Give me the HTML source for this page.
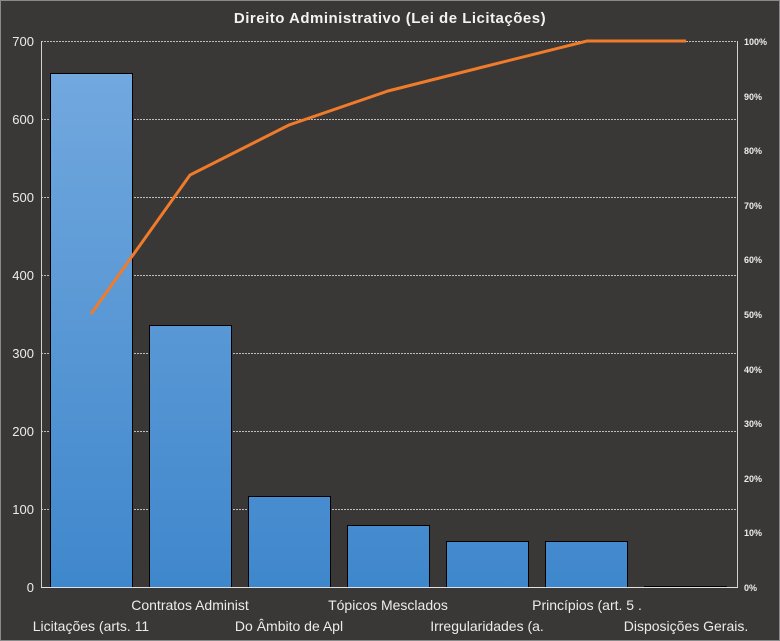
<!DOCTYPE html>
<html><head><style>html,body{margin:0;padding:0;overflow:hidden;background:#3a3836}svg{display:block}</style></head><body>
<svg width="780" height="641" xmlns="http://www.w3.org/2000/svg" font-family="Liberation Sans, sans-serif">
<defs><linearGradient id="g" gradientUnits="userSpaceOnUse" x1="0" y1="73" x2="0" y2="587"><stop offset="0" stop-color="#72a8de"/><stop offset="1" stop-color="#3f87cc"/></linearGradient></defs>
<rect x="0.5" y="0.5" width="779" height="640" fill="#3a3836" stroke="#8a8a8a"/>
<text x="390" y="23" fill="#f2f2f2" font-size="15" font-weight="bold" text-anchor="middle" letter-spacing="0.5">Direito  Administrativo  (Lei de Licitações)</text>
<g stroke="#bdbdbd" stroke-dasharray="2,1" stroke-width="1">
<line x1="41" x2="737" y1="41.5" y2="41.5"/><line x1="41" x2="737" y1="119.5" y2="119.5"/><line x1="41" x2="737" y1="197.5" y2="197.5"/><line x1="41" x2="737" y1="275.5" y2="275.5"/><line x1="41" x2="737" y1="353.5" y2="353.5"/><line x1="41" x2="737" y1="431.5" y2="431.5"/><line x1="41" x2="737" y1="509.5" y2="509.5"/>
</g>
<g fill="url(#g)" stroke="#000" stroke-width="1">
<rect x="50.5" y="73.5" width="82" height="514"/>
<rect x="149.5" y="325.5" width="82" height="262"/>
<rect x="248.5" y="496.5" width="82" height="91"/>
<rect x="347.5" y="525.5" width="82" height="62"/>
<rect x="446.5" y="541.5" width="82" height="46"/>
<rect x="545.5" y="541.5" width="82" height="46"/>
<rect x="644.5" y="586.5" width="82" height="1"/>
</g>
<line x1="41.5" y1="41" x2="41.5" y2="588" stroke="#d0d0d0"/>
<line x1="737.5" y1="41" x2="737.5" y2="588" stroke="#d0d0d0"/>
<line x1="41" y1="587.5" x2="738" y2="587.5" stroke="#e0e0e0"/>
<polyline points="91,314 190,175 289,125 388,91 487,66 587,41 686,41" fill="none" stroke="#f07b2a" stroke-width="3"/>
<g fill="#ececec" font-size="13" text-anchor="end">
<text x="34" y="46">700</text><text x="34" y="124">600</text><text x="34" y="202">500</text><text x="34" y="280">400</text><text x="34" y="358">300</text><text x="34" y="436">200</text><text x="34" y="514">100</text><text x="34" y="592">0</text>
</g>
<g fill="#ececec" font-size="9" font-weight="bold">
<text x="744" y="45">100%</text><text x="744" y="100">90%</text><text x="744" y="154">80%</text><text x="744" y="209">70%</text><text x="744" y="263">60%</text><text x="744" y="318">50%</text><text x="744" y="373">40%</text><text x="744" y="427">30%</text><text x="744" y="482">20%</text><text x="744" y="536">10%</text><text x="744" y="591">0%</text>
</g>
<g fill="#ececec" font-size="14" text-anchor="middle">
<text x="91" y="631">Licitações (arts. 11</text>
<text x="190" y="610">Contratos Administ</text>
<text x="289" y="631">Do Âmbito de Apl</text>
<text x="388" y="610">Tópicos Mesclados</text>
<text x="487" y="631">Irregularidades (a.</text>
<text x="587" y="610">Princípios (art. 5 .</text>
<text x="686" y="631">Disposições Gerais.</text>
</g>
</svg>
</body></html>
